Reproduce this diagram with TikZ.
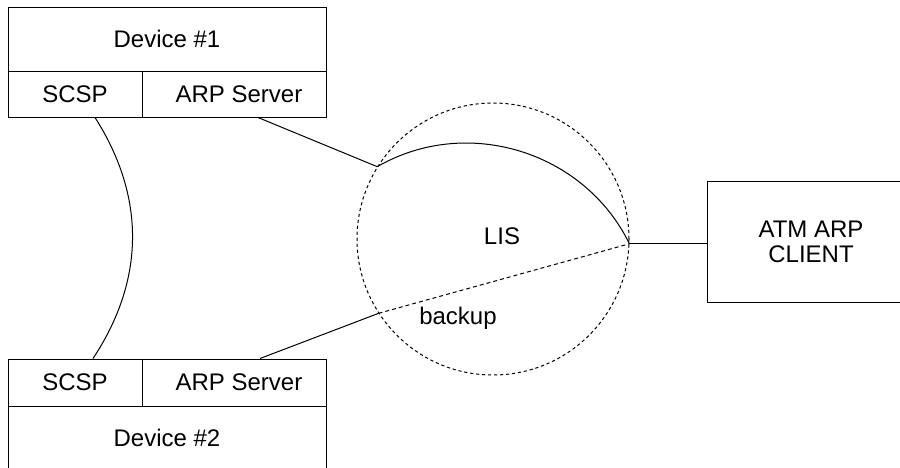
\documentclass[tikz,border=0pt]{standalone}
\usepackage{fontspec}
\setmainfont{Liberation Sans}
\usepackage{tikz}
\usetikzlibrary{arrows.meta,shapes}
\tikzset{
  cellbox/.style={draw, rectangle, inner sep=0pt, line width=0.5pt},
  lisring/.style={draw, circle, inner sep=0pt, line width=0.5pt, dash pattern=on 1.6pt off 1.4pt, minimum size=136pt},
  link/.style={line width=0.5pt},
  backuplink/.style={line width=0.5pt, dash pattern=on 2pt off 1.5pt},
}

\begin{document}
\begin{tikzpicture}[x=0.5pt, y=-0.5pt]

  \fontsize{12}{13.5}\selectfont

  \useasboundingbox (0,0) rectangle (900,467);
  \clip (0,0) rectangle (900,467);

  % device 1
  \node[cellbox, minimum width=159pt, minimum height=32pt] (devA) at (167,39) {Device \#1};
  \node[cellbox, minimum width=67pt, minimum height=23pt] (scspA) at (75,94) {SCSP};
  \node[cellbox, minimum width=92pt, minimum height=23pt] (arpA) at (234,94) {\hspace*{5pt}ARP Server};

  % device 2
  \node[cellbox, minimum width=67pt, minimum height=23.5pt] (scspB) at (75,382.5) {SCSP};
  \node[cellbox, minimum width=92pt, minimum height=23.5pt] (arpB) at (234,382.5) {\hspace*{5pt}ARP Server};
  \node[cellbox, minimum width=159pt, minimum height=32pt] (devB) at (167,438) {Device \#2};

  % LIS and client
  \node[lisring] (lis) at (493,239) {};
  \node (lislabel) at (502,236) {LIS};
  \node (backup) at (458,318) {backup};
  \node[cellbox, minimum width=104pt, minimum height=60.5pt, align=center] (client) at (811,241.5) {ATM ARP\\[-1pt]CLIENT};

  \draw[link] ([xshift=10pt]scspA.south) to[bend left=33] ([xshift=9pt]scspB.north); % SCSP<->SCSP

  \draw[link] ([xshift=12pt]arpA.south) -- (lis.148); % server 1
  \draw[link] (lis.148) to[bend left=47] (lis.-2);
  \draw[link] ([xshift=13pt]arpB.north) -- (lis.213); % server 2
  \draw[backuplink] (lis.213) -- (lis.-2); % backup
  \draw[link] (lis.-2) -- (lis.-2 -| client.west);

\end{tikzpicture}
\end{document}
